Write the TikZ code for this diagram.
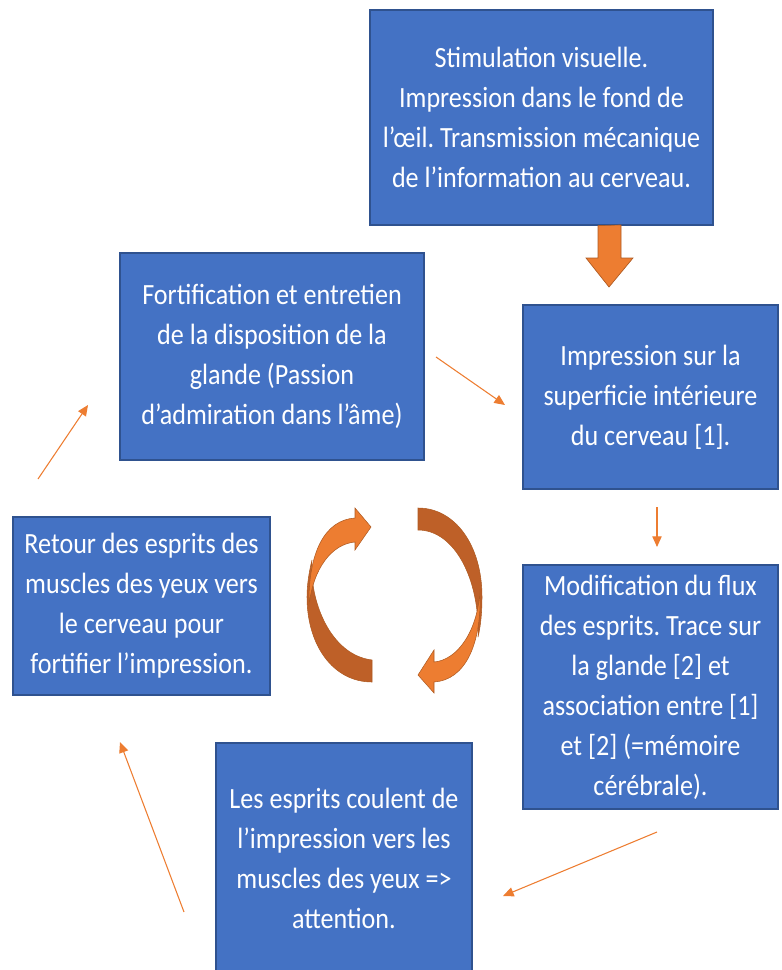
\documentclass[tikz,border=0pt]{standalone}
\usepackage{fontspec}
\setmainfont{Carlito}[FakeStretch=0.89]
\usepackage{tikz}
\usetikzlibrary{arrows.meta}
\definecolor{boxblue}{HTML}{4472C4}
\definecolor{boxline}{HTML}{2F528F}
\definecolor{arrorange}{HTML}{ED7D31}
\definecolor{arrdark}{RGB}{190,96,40}
\definecolor{arrline}{RGB}{174,90,33}
\frenchspacing

\begin{document}
\begin{tikzpicture}[x=0.75pt, y=-0.75pt,
		box/.style={draw=boxline, fill=boxblue, line width=0.9pt, text=white, align=center, inner sep=0pt, font=\fontsize{22}{30}\selectfont},
		link/.style={draw=arrorange, line width=0.8pt, -{Triangle[length=8pt,width=7pt]}},
		loop/.style={draw=arrline, line width=0.4pt}]
			\useasboundingbox (0,0) rectangle (781,970);
			\node[box, minimum width=257.25pt, minimum height=161.25pt] at (541.5,117.5) (stim){Stimulation visuelle.\\Impression dans le fond de\\l’œil. Transmission mécanique\\de l’information au cerveau.};
			\node[box, minimum width=191.25pt, minimum height=138pt] at (650.5,397) (impr){Impression sur la\\superficie intérieure\\du cerveau [1].};
			\node[box, minimum width=191.25pt, minimum height=183pt] at (650.5,687) (modif){Modification du flux\\des esprits. Trace sur\\la glande [2] et\\association entre [1]\\et [2] (=mémoire\\cérébrale).};
			\node[box, minimum width=192pt, minimum height=172.5pt] at (344,858) (espr){Les esprits coulent de\\l’impression vers les\\muscles des yeux =>\\attention.};
			\node[box, minimum width=192.75pt, minimum height=133.5pt] at (141.5,606) (ret){Retour des esprits des\\muscles des yeux vers\\le cerveau pour\\fortifier l’impression.};
			\node[box, minimum width=228pt, minimum height=155.25pt] at (272,356.5) (fort){Fortification et entretien\\de la disposition de la\\glande (Passion\\d’admiration dans l’âme)};
			% block arrow stim -> impr
			\filldraw[fill=arrorange, draw=arrline, line width=0.5pt] (stim.south -| 598,0) -- (621,225) -- (621,258) -- (633,258) -- (609,287) -- (586,258) -- (598,258) -- cycle;
			% thin connectors
			\coordinate (f1) at (436,357);
			\coordinate (f2) at (505,405);
			\coordinate (i1) at (657,507);
			\coordinate (i2) at (657,547);
			\coordinate (m1) at (657,832);
			\coordinate (m2) at (503,896);
			\coordinate (e1) at (184,912);
			\coordinate (e2) at (120,742);
			\coordinate (r1) at (38,479);
			\coordinate (r2) at (88,405);
			\draw[link] (f1) -- (f2);
			\draw[link] (i1) -- (i2);
			\draw[link] (m1) -- (m2);
			\draw[link] (e1) -- (e2);
			\draw[link] (r1) -- (r2);
			% circular arrows
			\filldraw[loop, fill=arrdark] (372,682) .. controls (333,682) and (307,645) .. (307,597) .. controls (307,585) and (309,572) .. (312,560) .. controls (309,600) and (330,655) .. (372,660) -- cycle;
			\filldraw[loop, fill=arrorange] (309,606) .. controls (308,552) and (325,520) .. (355,518) -- (355,508) -- (371,527) -- (355,550) -- (355,542) .. controls (332,544) and (313,568) .. (309,606) -- cycle;
			\filldraw[loop, fill=arrdark] (418,508) .. controls (455,508) and (482,545) .. (482,597) .. controls (482,610) and (481,625) .. (478,637) .. controls (480,580) and (455,530) .. (418,530) -- cycle;
			\filldraw[loop, fill=arrorange] (480,590) .. controls (482,645) and (465,680) .. (434,682) -- (434,693) -- (418,675) -- (434,650) -- (434,662) .. controls (458,660) and (478,630) .. (480,590) -- cycle;
		\end{tikzpicture}
\end{document}
